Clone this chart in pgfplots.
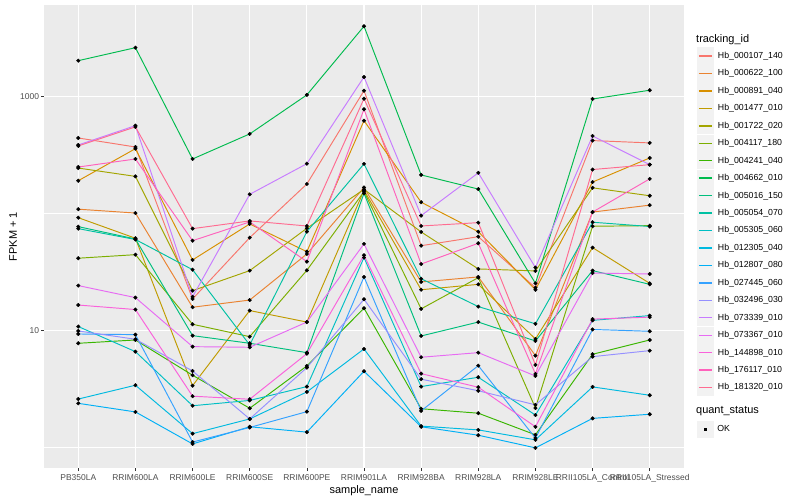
\documentclass[border=0pt]{standalone}
\usepackage{pgfplots}
\pgfplotsset{compat=1.18}
\usepackage{pgfplotstable}
\usepackage{fontspec}
\setmainfont{Liberation Sans}

% ggplot hue palette, 20 levels
\definecolor{c1}{HTML}{F8766D}
\definecolor{c2}{HTML}{EA8331}
\definecolor{c3}{HTML}{D89000}
\definecolor{c4}{HTML}{C09B00}
\definecolor{c5}{HTML}{A3A500}
\definecolor{c6}{HTML}{7CAE00}
\definecolor{c7}{HTML}{39B600}
\definecolor{c8}{HTML}{00BB4E}
\definecolor{c9}{HTML}{00BF7D}
\definecolor{c10}{HTML}{00C1A3}
\definecolor{c11}{HTML}{00BFC4}
\definecolor{c12}{HTML}{00BAE0}
\definecolor{c13}{HTML}{00B0F6}
\definecolor{c14}{HTML}{35A2FF}
\definecolor{c15}{HTML}{9590FF}
\definecolor{c16}{HTML}{C77CFF}
\definecolor{c17}{HTML}{E76BF3}
\definecolor{c18}{HTML}{FA62DB}
\definecolor{c19}{HTML}{FF62BC}
\definecolor{c20}{HTML}{FF6C91}
\definecolor{panel}{HTML}{EBEBEB}
\definecolor{keybg}{HTML}{F2F2F2}
\definecolor{grey30}{HTML}{4D4D4D}
\definecolor{grey20}{HTML}{333333}

% FPKM + 1 per sample (rows) and gene (columns, legend order)
\pgfplotstableread{
x  H1   H2   H3   H4   H5   H6   H7   H8   H9   H10  H11  H12  H13  H14  H15  H16  H17  H18  H19  H20
0  443  109  191  92.2 245  41.5 7.77 2032 77.3 74.3 10.8 2.59 2.38 9.33 9.9  386  24.2 16.5 250  379
1  371  101  359  61.5 208  44.5 8.29 2624 60.6 60.0 6.59 3.40 2.01 9.21 8.41 565  19.1 15.1 293  551
2  18.6 15.8 40.1 3.37 21.9 11.3 4.14 293  9.03 33.1 2.27 1.31 1.07 1.11 4.50 19.4 7.27 2.74 58.6 74.3
3  62.2 18.2 81.5 14.8 32.5 8.85 2.16 480  7.77 7.52 2.52 1.75 1.50 1.48 1.75 146  7.18 2.58 84.8 86.5
4  179  45.1 47.2 11.8 74.8 32.7 4.97 1035 6.46 70.0 3.31 2.98 1.35 2.02 4.81 267  11.8 6.33 38.8 78.3
5  1125 167  623  158  161  154  15.5 4000 149  266  42.0 6.95 4.48 28.7 18.5 1474 55.0 44.0 780  961
6  53.1 26.0 125  22.3 69.6 15.3 2.14 214  8.97 27.7 3.31 1.52 1.50 2.05 3.83 96.0 5.90 4.27 37.0 78.3
7  63.4 28.7 70.0 24.8 33.6 28.3 1.96 162  11.8 16.0 3.98 1.41 1.27 5.00 3.05 223  6.46 3.27 55.7 83.6
8  23.2 6.09 22.3 8.46 32.3 2.17 1.28 25.3 8.13 11.4 1.89 1.16 0.99 1.20 2.31 34.5 4.08 1.50 4.25 5.07
9  421  103  186  51.1 166  77.9 6.26 955  32.5 84.3 12.2 3.29 1.77 10.2 5.97 461  31.0 12.5 103  238
10 402  118  299  25.3 142  78.8 8.29 1135 24.8 77.5 13.4 2.79 1.92 9.84 6.72 262  30.4 13.0 198  262
}\fpkm

\begin{document}
\begin{tikzpicture}
\useasboundingbox (0bp,0bp) rectangle (800bp,500bp);
\begin{axis}[
  at={(44bp,31.7bp)}, anchor=south west,
  scale only axis, width=640bp, height=463.3bp,
  ymode=log, log basis y=10,
  ymin=0.662, ymax=6083,
  xmin=-0.6, xmax=10.6,
  axis background/.style={fill=panel},
  axis line style={draw=none},
  xtick={0,...,10},
  xticklabels={PB350LA,RRIM600LA,RRIM600LE,RRIM600SE,RRIM600PE,RRIM901LA,RRIM928BA,RRIM928LA,RRIM928LE,RRII105LA\_Control,RRII105LA\_Stressed},
  ytick={10,1000}, yticklabels={10,1000},
  minor ytick={1,100},
  xtick pos=bottom, ytick pos=left,
  xmajorgrids, ymajorgrids, yminorgrids,
  major grid style={white, line width=1.1bp},
  minor grid style={white, line width=0.55bp},
  tick align=outside, major tick length=2.75bp, minor tick length=0pt,
  tick style={grey20, line width=0.5bp},
  ticklabel style={font=\fontsize{8.5}{10}\selectfont, text=grey30, inner sep=0pt},
  x tick label style={yshift=-3bp},
  y tick label style={xshift=-2bp},
  xlabel={sample\_name}, ylabel={FPKM + 1},
  label style={font=\fontsize{11}{13}\selectfont},
  xlabel style={at={(axis description cs:0.5,-0.049)}, anchor=center},
  ylabel style={at={(axis description cs:-0.0484,0.5)}, anchor=center},
  legend style={at={(axis description cs:1.0203,0.9085)}, anchor=north west,
    draw=none, fill=none, inner sep=0pt, outer sep=0pt,
    row sep=0.2bp, column sep=4bp,
    font=\fontsize{8.8}{10}\selectfont, nodes={inner sep=0pt}},
  legend cell align=left,
  legend image code/.code={
    \fill[keybg] (0bp,-8.15bp) rectangle (16bp,8.15bp);
    \draw[#1, line width=1.4bp] (1.5bp,0bp) -- (14.5bp,0bp);
  },
  legend entries={Hb\_000107\_140,Hb\_000622\_100,Hb\_000891\_040,Hb\_001477\_010,Hb\_001722\_020,Hb\_004117\_180,Hb\_004241\_040,Hb\_004662\_010,Hb\_005016\_150,Hb\_005054\_070,Hb\_005305\_060,Hb\_012305\_040,Hb\_012807\_080,Hb\_027445\_060,Hb\_032496\_030,Hb\_073339\_010,Hb\_073367\_010,Hb\_144898\_010,Hb\_176117\_010,Hb\_181320\_010},
]
\pgfplotsinvokeforeach{1,...,20}{
  \addplot[c#1, line width=0.95bp, mark=none] table[x=x, y=H#1] {\fpkm};
}
\pgfplotsinvokeforeach{1,...,20}{
  \addplot[only marks, mark=*, mark size=1.8bp, black, forget plot] table[x=x, y=H#1] {\fpkm};
}
\end{axis}

% second legend: quant_status
\begin{axis}[
  at={(44bp,31.7bp)}, anchor=south west,
  scale only axis, width=640bp, height=463.3bp,
  xmin=0, xmax=1, ymin=0, ymax=1, hide axis,
  legend style={at={(axis description cs:1.0203,0.1023)}, anchor=north west,
    draw=none, fill=none, inner sep=0pt, outer sep=0pt, column sep=4bp,
    font=\fontsize{8.8}{10}\selectfont, nodes={inner sep=0pt}},
  legend cell align=left,
  legend image code/.code={
    \fill[keybg] (0bp,-8.15bp) rectangle (16bp,8.15bp);
    \draw[#1] plot coordinates {(8bp,0bp)};
  },
]
\addlegendimage{only marks, mark=square*, mark size=1.4bp, black}
\addlegendentry{OK}
\end{axis}

\node[anchor=west, inner sep=0pt, font=\fontsize{11}{13}\selectfont] at (696bp,460bp) {tracking\_id};
\node[anchor=west, inner sep=0pt, font=\fontsize{11}{13}\selectfont] at (696bp,88.5bp) {quant\_status};
\end{tikzpicture}
\end{document}
